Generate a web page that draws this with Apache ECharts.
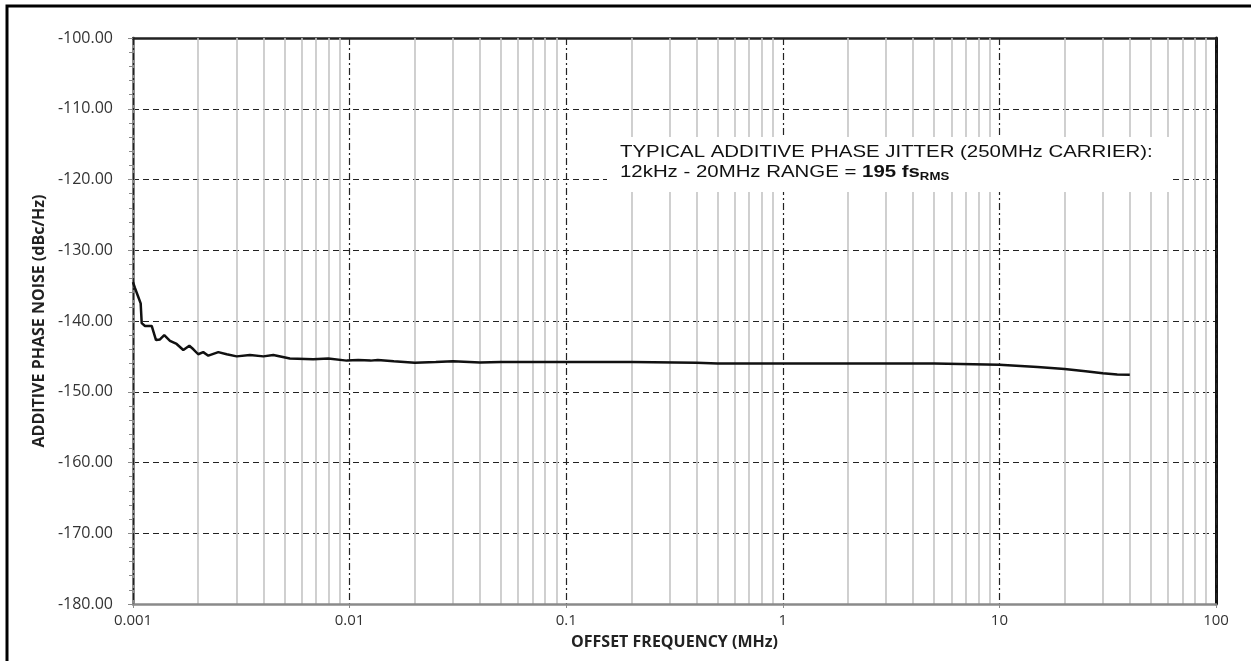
<!DOCTYPE html>
<html>
<head>
<meta charset="utf-8">
<script src="https://cdn.jsdelivr.net/npm/echarts@6/dist/echarts.min.js"></script>
<style>
html,body{margin:0;padding:0;background:#fff;}
#chart{width:1251px;height:661px;}
</style>
</head>
<body>
<div id="chart"></div>
<script>
// Offset frequency (MHz)
const freqMHz = [0.001, 0.00102, 0.001058, 0.001085, 0.001097, 0.001136, 0.00122, 0.001277, 0.001332, 0.001394,
  0.001482, 0.00159, 0.001707, 0.00182, 0.0019, 0.002, 0.00211, 0.002227, 0.002477, 0.002708,
  0.003012, 0.003467, 0.003997, 0.004444, 0.0053, 0.00679, 0.00797, 0.0097, 0.01096, 0.0125,
  0.0135, 0.016, 0.02, 0.025, 0.03, 0.04, 0.05, 0.07, 0.1, 0.2,
  0.4, 0.5, 1, 2, 5, 10, 15, 20, 25, 30, 35, 40];
// Additive phase noise (dBc/Hz)
const phaseNoise = [-134.5, -135.3, -136.6, -137.5, -140.3, -140.7, -140.7, -142.7, -142.6, -142.0,
  -142.8, -143.25, -144.1, -143.5, -144.0, -144.7, -144.4, -144.9, -144.4, -144.7,
  -145.0, -144.8, -145.0, -144.8, -145.3, -145.4, -145.3, -145.6, -145.5, -145.6,
  -145.5, -145.7, -145.9, -145.8, -145.7, -145.85, -145.8, -145.8, -145.8, -145.8,
  -145.9, -146.0, -146.0, -146.0, -146.0, -146.2, -146.5, -146.8, -147.1, -147.4, -147.55, -147.6];
const xTickLabels = ['0.001', '0.01', '0.1', '1', '10', '100'];
const decades = [0.001, 0.01, 0.1, 1, 10];
const minorMultipliers = [2, 3, 4, 5, 6, 7, 8, 9];
const yAxisTitle = 'ADDITIVE PHASE NOISE (dBc/Hz)';
const xAxisTitle = 'OFFSET FREQUENCY (MHz)';
const noteLine1 = 'TYPICAL ADDITIVE PHASE JITTER (250MHz CARRIER):';
const noteLine2a = '12kHz - 20MHz RANGE = ';
const noteLine2b = '195 fs';
const noteLine2c = 'RMS';
const yMin = -180, yMax = -100;

const minorLines = [];
decades.forEach(d => minorMultipliers.forEach(m => {
  const f = d * m;
  minorLines.push({ coords: [[f, yMin], [f, yMax]] });
}));

const chart = echarts.init(document.getElementById('chart'));
const labelFont = '"Open Sans", "DejaVu Sans", sans-serif';
const noteFont = '"Liberation Sans", Arial, sans-serif';
chart.setOption({
  animation: false,
  backgroundColor: '#fff',
  grid: { left: 133, right: 35, top: 38, bottom: 57, containLabel: false },
  xAxis: [{
    type: 'log', logBase: 10, min: 0.001, max: 100,
    name: xAxisTitle, nameLocation: 'middle', nameGap: 30,
    nameTextStyle: { fontFamily: labelFont, fontWeight: 'bold', fontSize: 16, color: '#222' },
    axisLine: { show: true, lineStyle: { color: '#8a8a8a', width: 2.5 } },
    axisTick: { show: true, length: 4, lineStyle: { color: '#8a8a8a' } },
    axisLabel: { fontFamily: labelFont, fontSize: 15, color: '#333', margin: 9,
      formatter: v => { const s = String(+v.toPrecision(3)); return xTickLabels.indexOf(s) >= 0 ? s : ''; } },
    splitLine: { show: true, lineStyle: { color: '#222', width: 1.2, type: [7, 3, 2, 3] } },
    z: 3
  }, {
    type: 'value', position: 'top', min: 0, max: 1,
    axisLine: { show: true, onZero: false, lineStyle: { color: '#222', width: 2.5 } },
    axisTick: { show: false }, axisLabel: { show: false }, splitLine: { show: false }
  }],
  yAxis: [{
    type: 'value', min: yMin, max: yMax, interval: 10,
    name: yAxisTitle, nameLocation: 'middle', nameGap: 78, nameRotate: 90,
    nameTextStyle: { fontFamily: labelFont, fontWeight: 'bold', fontSize: 16, color: '#222' },
    axisLine: { show: true, onZero: false, lineStyle: { color: '#8a8a8a', width: 3 } },
    axisTick: { show: true, length: 5, lineStyle: { color: '#8a8a8a' } },
    minorTick: { show: true, splitNumber: 5, length: 4, lineStyle: { color: '#8a8a8a' } },
    axisLabel: { fontFamily: labelFont, fontSize: 16, color: '#333', margin: 20, formatter: v => v.toFixed(2) },
    splitLine: { show: true, lineStyle: { color: '#222', width: 1.2, type: [6, 4] } }
  }, {
    type: 'value', position: 'right', min: yMin, max: yMax,
    axisLine: { show: true, onZero: false, lineStyle: { color: '#111', width: 3 } },
    axisTick: { show: false }, axisLabel: { show: false }, splitLine: { show: false }
  }],
  series: [{
    type: 'lines', coordinateSystem: 'cartesian2d', xAxisIndex: 0, yAxisIndex: 0,
    z: 1, silent: true, polyline: false,
    lineStyle: { color: '#c4c4c4', width: 1.6, type: 'solid', opacity: 1 },
    data: minorLines
  }, {
    type: 'line', xAxisIndex: 0, yAxisIndex: 0, z: 5,
    data: freqMHz.map((f, i) => [f, phaseNoise[i]]),
    showSymbol: false, smooth: false,
    lineStyle: { color: '#111', width: 2.5 }
  }],
  graphic: [{
    type: 'rect', z: 10, shape: { x: 607, y: 137, width: 565, height: 55 },
    style: { fill: '#fff' }
  }, {
    type: 'text', z: 11, x: 620, y: 142, scaleX: 1.2, scaleY: 1,
    style: {
      text: '{a|' + noteLine1 + '}\n{a|' + noteLine2a + '}{b|' + noteLine2b + '}{c|' + noteLine2c + '}',
      rich: {
        a: { fontFamily: noteFont, fontSize: 17, lineHeight: 20, fill: '#111' },
        b: { fontFamily: noteFont, fontSize: 17, fontWeight: 'bold', lineHeight: 20, fill: '#111' },
        c: { fontFamily: noteFont, fontSize: 11, fontWeight: 'bold', lineHeight: 20, fill: '#111', verticalAlign: 'bottom', padding: [7, 0, 0, 0] }
      }
    }
  }, {
    type: 'rect', z: 20, shape: { x: 7, y: 6, width: 1300, height: 700 },
    style: { fill: 'none', stroke: '#000', lineWidth: 3 }
  }]
});
</script>
</body>
</html>
